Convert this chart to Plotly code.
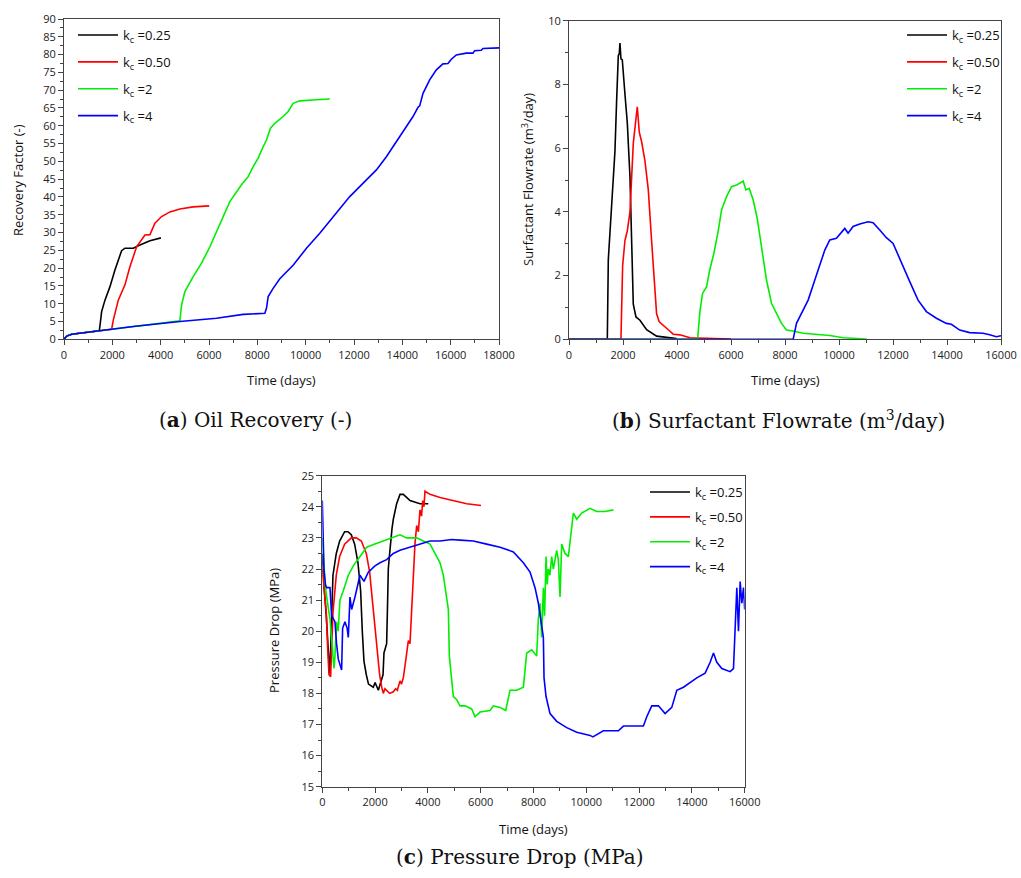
import plotly.graph_objects as go

W, H = 1021, 878
def px(x): return x / W
def py(y): return 1 - y / H

# ---------------- Panel (a) Oil recovery ----------------
a_t_025 = [0,110,317,661,1000,1460,1500,1557,1695,1902,2108,2315,2384,2522,2866,3142,3556,4010]
a_rf_025 = [0,0.9,1.4,1.7,2.0,2.4,4.5,7.8,11,14.8,19.5,23.7,24.9,25.6,25.6,26.5,27.7,28.5]
a_t_050 = [0,110,317,661,1000,1488,1970,2040,2246,2522,2728,3004,3349,3556,3763,4038,4382,4795,5346,6008]
a_rf_050 = [0,0.9,1.4,1.7,2.0,2.4,2.8,5.4,11,15.3,20.4,26,29.3,29.4,32.6,34.5,35.8,36.6,37.2,37.5]
a_t_2 = [0,110,317,661,1000,1488,2866,4000,4795,4864,5002,5346,5691,6036,6518,6862,7345,7620,7827,8034,
         8241,8379,8544,8723,9068,9275,9481,9757,10446,10997]
a_rf_2 = [0,0.9,1.4,1.7,2.0,2.4,3.6,4.7,5.2,9.6,13.4,17.6,21.4,26,33.5,38.7,43.4,45.7,48.5,50.9,
          54.1,56,59.3,60.7,62.6,64,66.3,67,67.3,67.5]
a_t_4 = [0,110,317,661,1488,2866,4795,6311,7414,8310,8379,8448,8654,8930,9481,10033,10584,11135,11824,12513,
         12926,13340,13891,14442,14649,14718,14856,15131,15407,15683,15889,16027,16234,16647,16923,16992,17268,17337,18000]
a_rf_4 = [0,0.9,1.4,1.7,2.4,3.6,5.0,5.9,7.0,7.3,8.7,12,14.3,17,20.8,25.6,29.8,34.3,40.1,44.8,
          47.6,51.3,56.9,62.6,65.2,65.6,69.1,72.9,75.7,77.4,77.5,78.7,79.9,80.4,80.4,81.1,81.2,81.7,81.9]

# ---------------- Panel (b) Surfactant flowrate ----------------
b_t_025 = [0,1419,1456,1517,1579,1641,1702,1764,1826,1863,1887,1924,1974,2072,2159,2258,2319,2381,2480,2628,2874,3244,3984]
b_q_025 = [0,0,2.5,3.4,4.2,5.3,5.9,7.5,8.9,8.97,9.3,8.8,8.77,7.7,6.8,5.1,3.3,1.1,0.7,0.6,0.3,0.1,0.02]
b_t_050 = [0,1924,1986,2072,2159,2258,2381,2467,2529,2603,2690,2813,2936,3059,3146,3244,3343,3491,3676,3861,4108,4478,5218,5995]
b_q_050 = [0,0,2.3,3.1,3.4,4.0,6.15,6.8,7.3,6.5,6.2,5.6,4.7,3.1,2.0,0.8,0.55,0.45,0.3,0.16,0.14,0.05,0.02,0.01]
b_t_2 = [0,4762,4848,4947,5095,5218,5366,5527,5650,5835,6020,6205,6452,6551,6674,6822,6970,7130,7315,7500,
         7685,7870,8055,8302,8672,9165,9659,10152,11016]
b_q_2 = [0,0,0.87,1.44,1.65,2.2,2.7,3.4,4.06,4.48,4.79,4.84,4.97,4.69,4.74,4.37,3.8,2.9,1.86,1.13,
         0.82,0.5,0.29,0.26,0.19,0.16,0.12,0.05,0.01]
b_t_4 = [0,8302,8425,8610,8857,9104,9351,9474,9659,9906,10214,10337,10522,10769,11078,11263,11509,11756,12003,12311,
         12620,12928,13236,13607,13977,14162,14470,14840,15333,15580,15827,16000]
b_q_4 = [0,0,0.5,0.82,1.23,1.86,2.5,2.8,3.12,3.17,3.48,3.33,3.54,3.62,3.69,3.66,3.43,3.19,3.01,2.38,
         1.81,1.23,0.87,0.66,0.5,0.47,0.29,0.21,0.19,0.14,0.08,0.11]

# ---------------- Panel (c) Pressure drop ----------------
c_t_025 = [0,60,150,220,278,320,366,404,530,657,846,973,1099,1225,1351,1452,1515,1578,1667,1750,
           1932,2000,2122,2200,2248,2300,2336,2400,2437,2470,2500,2540,2589,2640,2690,2750,2816,2943,3069,3322,3701,4016]
c_p_025 = [22.5,21.5,20.5,19.5,18.64,19.5,20.9,21.8,22.5,22.9,23.2,23.2,23.1,22.8,22.2,21.3,20.0,19.04,18.6,18.3,
           18.2,18.35,18.1,18.3,18.4,18.6,19.3,19.5,19.6,20.8,22.0,22.4,22.9,23.3,23.6,23.8,24.1,24.4,24.4,24.2,24.1,24.1]
c_t_050 = [0,80,152,200,253,316,360,404,530,657,846,1099,1288,1478,1667,1793,1919,2046,2172,2250,
           2311,2370,2437,2550,2690,2780,2842,2943,3000,3069,3150,3196,3260,3322,3385,3449,3510,3575,3640,3701,
           3760,3802,3850,3890,4080,4459,4964,5469,6012]
c_p_050 = [22.0,21.2,20.6,19.5,18.6,18.54,19.5,20.6,21.8,22.4,22.8,23.0,23.0,22.9,22.5,21.9,20.8,19.7,18.6,18.2,
           18.0,18.15,18.1,18.0,18.05,18.15,18.1,18.4,18.3,18.5,19.0,19.3,19.7,19.6,20.6,22.0,22.8,23.4,23.2,23.9,
           23.7,24.2,24.0,24.5,24.4,24.3,24.2,24.1,24.04]
c_t_2 = [0,50,100,164,230,291,350,400,442,480,540,600,669,795,985,1175,1427,1680,1996,2311,
         2690,2943,3196,3575,3827,4080,4269,4459,4585,4711,4774,4812,4900,4964,5090,5216,5406,5658,5785,5974,
         6353,6479,6732,6947,7111,7364,7616,7742,7932,8121,8184,8247,8310,8374,8420,8475,8520,8563,8620,8689,
         8750,8879,8940,9005,9068,9195,9321,9409,9510,9637,9826,10142,10395,10711,11027]
c_p_2 = [23.0,22.2,21.6,21.1,20.8,20.4,19.8,19.3,18.8,19.2,20.3,20.0,21.0,21.3,21.8,22.1,22.4,22.7,22.8,22.9,
         23.0,23.1,23.0,23.0,22.9,22.8,22.5,22.2,21.8,21.0,20.7,19.2,18.5,17.9,17.8,17.6,17.6,17.5,17.25,17.4,
         17.45,17.6,17.55,17.45,18.1,18.1,18.2,19.3,19.4,19.2,20.4,20.9,19.8,21.4,20.5,22.4,21.5,22.0,21.8,22.4,
         22.0,22.6,22.3,21.1,22.8,22.5,22.4,23.0,23.8,23.6,23.8,23.95,23.85,23.85,23.9]
c_t_4 = [0,63,120,164,291,353,420,480,540,606,680,732,770,858,940,985,1048,1111,1238,1326,
         1427,1579,1743,1996,2185,2437,2690,2943,3322,3701,4080,4459,4900,5216,5721,6226,6732,7237,7616,7868,
         8058,8184,8250,8310,8374,8399,8475,8626,8879,9258,9637,10142,10250,10647,11216,11406,12164,12290,12479,12732,
         12985,13238,13428,13680,13933,14185,14501,14691,14817,14943,15133,15449,15575,15638,15701,15764,15828,15891,15954,16000]
c_p_4 = [24.2,22.0,21.5,21.4,21.4,20.5,20.4,20.3,19.6,19.1,18.9,18.75,20.1,20.3,20.1,19.8,21.1,20.7,21.1,21.4,
         21.8,21.6,21.9,22.1,22.2,22.3,22.5,22.6,22.7,22.8,22.9,22.9,22.95,22.93,22.9,22.8,22.7,22.55,22.2,21.9,
         21.4,20.9,20.5,20.25,19.8,18.5,17.9,17.35,17.1,16.9,16.75,16.65,16.6,16.8,16.8,16.95,16.95,17.25,17.6,17.6,
         17.35,17.55,18.1,18.2,18.35,18.5,18.65,19.0,19.3,19.0,18.8,18.7,18.8,19.9,21.4,20.0,21.6,20.9,21.4,20.7]

series_names = ["k<sub>c</sub> =0.25", "k<sub>c</sub> =0.50", "k<sub>c</sub> =2", "k<sub>c</sub> =4"]
colors = ["#000000", "#ff0000", "#00ee00", "#0000ff"]

panels = [
    ("x", "y", "legend", [(a_t_025, a_rf_025), (a_t_050, a_rf_050), (a_t_2, a_rf_2), (a_t_4, a_rf_4)]),
    ("x2", "y2", "legend2", [(b_t_025, b_q_025), (b_t_050, b_q_050), (b_t_2, b_q_2), (b_t_4, b_q_4)]),
    ("x3", "y3", "legend3", [(c_t_025, c_p_025), (c_t_050, c_p_050), (c_t_2, c_p_2), (c_t_4, c_p_4)]),
]

fig = go.Figure()
for xa, ya, lg, data in panels:
    for i, ((t, v), name, col) in enumerate(zip(data, series_names, colors)):
        fig.add_trace(go.Scatter(x=t, y=v, mode="lines", name=name, xaxis=xa, yaxis=ya, legend=lg,
                                 legendgroup=f"{lg}_{i}",
                                 line=dict(color=col, width=1.6)))

tickfont = dict(family="Open Sans", size=11, color="#222")
def axis(domain, rng, dtick, minor_dtick, anchor):
    return dict(domain=domain, range=rng, dtick=dtick, tick0=rng[0], anchor=anchor,
                tickformat="d",
                showline=True, linecolor="#444", linewidth=1, mirror=True,
                ticks="outside", ticklen=5, tickwidth=1, tickcolor="#444",
                minor=dict(dtick=minor_dtick, ticks="outside", ticklen=3, tickwidth=1, tickcolor="#444", showgrid=False),
                showgrid=False, zeroline=False, tickfont=tickfont, automargin=False, fixedrange=True)

legfont = dict(family="Open Sans", size=13, color="#111")
def legend(x, y, gap):
    return dict(x=px(x), y=py(y), xanchor="left", yanchor="top", font=legfont, itemwidth=40,
                bgcolor="rgba(0,0,0,0)", borderwidth=0, tracegroupgap=gap)

fig.update_layout(
    width=W, height=H, margin=dict(l=0, r=0, t=0, b=0),
    paper_bgcolor="white", plot_bgcolor="white", showlegend=True,
    xaxis=axis([px(64), px(499)], [0, 18000], 2000, 1000, "y"),
    yaxis=axis([py(339.3), py(19)], [0, 90], 5, 2.5, "x"),
    xaxis2=axis([px(569), px(1001)], [0, 16000], 2000, 1000, "y2"),
    yaxis2=axis([py(339.3), py(20.7)], [0, 10], 2, 1, "x2"),
    xaxis3=axis([px(322.3), px(744.7)], [0, 16000], 2000, 1000, "y3"),
    yaxis3=axis([py(786.7), py(475.7)], [15, 25], 1, 0.5, "x3"),
    legend=legend(73, 20, 7),
    legend2=legend(902, 20, 7),
    legend3=legend(645, 477, 5),
)

def ann(text, x, y, size=13, family="Open Sans", angle=0):
    fig.add_annotation(text=text, x=px(x), y=py(y), xref="paper", yref="paper", showarrow=False,
                       xanchor="center", yanchor="middle", textangle=angle,
                       font=dict(family=family, size=size, color="#111"))

ann("Time (days)", 281, 380)
ann("Recovery Factor (-)", 18, 180, angle=-90)
ann("Time (days)", 785, 380)
ann("Surfactant Flowrate (m<sup>3</sup>/day)", 527, 180, angle=-90)
ann("Time (days)", 533, 829)
ann("Pressure Drop (MPa)", 274, 631, angle=-90)

cap = "DejaVu Serif"
ann("(<b>a</b>) Oil Recovery (-)", 255, 420, size=20, family=cap)
ann("(<b>b</b>) Surfactant Flowrate (m<sup>3</sup>/day)", 778, 420, size=20, family=cap)
ann("(<b>c</b>) Pressure Drop (MPa)", 520, 857, size=20, family=cap)

fig.write_html("out.html")
